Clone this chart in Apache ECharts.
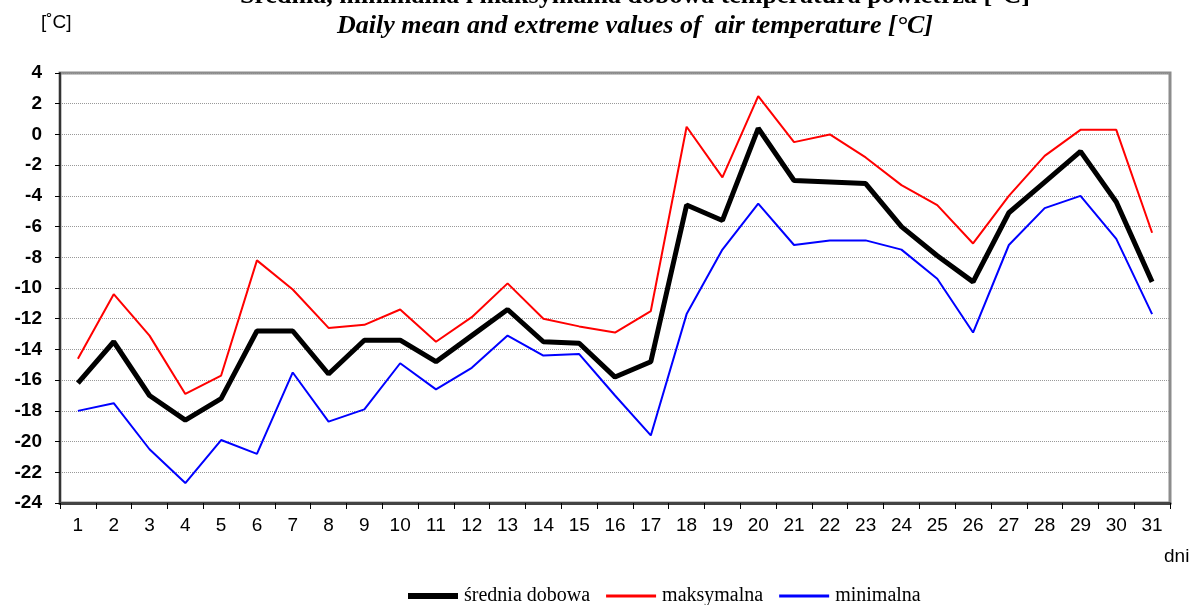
<!DOCTYPE html>
<html>
<head>
<meta charset="utf-8">
<script src="https://cdn.jsdelivr.net/npm/echarts@6/dist/echarts.min.js"></script>
<style>
html,body{margin:0;padding:0;background:#fff;}
#chart{width:1192px;height:605px;}
</style>
</head>
<body>
<div id="chart"></div>
<script>
// dni miesiaca
var days = [];
for (var d = 1; d <= 31; d++) days.push(String(d));

var srednia = [-16.2,-13.5,-17.0,-18.6,-17.2,-12.8,-12.8,-15.6,-13.4,-13.4,-14.8,-13.1,-11.4,-13.5,-13.6,-15.8,
  -14.8,-4.6,-5.6,0.4,-3.0,-3.1,-3.2,-6.0,-7.9,-9.6,-5.1,-3.1,-1.1,-4.4,-9.6];
var maksymalna = [-14.6,-10.4,-13.1,-16.9,-15.7,-8.2,-10.1,-12.6,-12.4,-11.4,-13.5,-11.9,-9.7,-12.0,-12.5,-12.9,
  -11.5,0.5,-2.8,2.5,-0.5,0.0,-1.5,-3.3,-4.6,-7.1,-4.0,-1.4,0.3,0.3,-6.4];
var minimalna = [-18.0,-17.5,-20.5,-22.7,-19.9,-20.8,-15.5,-18.7,-17.9,-14.9,-16.6,-15.2,-13.1,-14.4,-14.3,-17.0,
  -19.6,-11.7,-7.5,-4.5,-7.2,-6.9,-6.9,-7.5,-9.4,-12.9,-7.2,-4.8,-4.0,-6.8,-11.7];

// ikonki legendy - linia w srodku pola 50x14
var thickIcon = 'path://M0,0L0,0M0,4L50,4L50,10L0,10ZM50,14L50,14';
var thinIcon = 'path://M0,0L0,0M0,5.5L50,5.5L50,8.5L0,8.5ZM50,14L50,14';

var myChart = echarts.init(document.getElementById('chart'));

var option = {
    animation: false,
    backgroundColor: '#fff',
    title: [{
        text: 'Średnia, minimalna i maksymalna dobowa temperatura powietrza [°C]',
        left: 630, top: -22, textAlign: 'center',
        textStyle: {fontFamily: 'Liberation Serif', fontSize: 26, fontWeight: 'bold', color: '#000'}
    }, {
        text: 'Daily mean and extreme values of  air temperature [°C]',
        left: 630, top: 8, textAlign: 'center',
        textStyle: {fontFamily: 'Liberation Serif', fontSize: 26, fontWeight: 'bold', fontStyle: 'italic', color: '#000'}
    }, {
        text: '[˚C]',
        left: 36, top: 8,
        textStyle: {fontFamily: 'Liberation Sans', fontSize: 19, fontWeight: 'normal', color: '#000'}
    }, {
        text: 'dni',
        left: 1159, top: 542,
        textStyle: {fontFamily: 'Liberation Sans', fontSize: 19, fontWeight: 'normal', color: '#000'}
    }],
    legend: {
        bottom: -6, left: 403,
        itemWidth: 52, itemHeight: 14, itemGap: 16,
        textStyle: {fontFamily: 'Liberation Serif', fontSize: 20, color: '#000'},
        data: [
            {name: 'średnia dobowa', icon: thickIcon},
            {name: 'maksymalna', icon: thinIcon},
            {name: 'minimalna', icon: thinIcon}
        ]
    },
    grid: {
        left: 60, right: 22, top: 73, bottom: 102,
        show: true, borderColor: '#8c8c8c', borderWidth: 3
    },
    xAxis: {
        type: 'category',
        data: days,
        boundaryGap: true,
        axisLine: {onZero: false, lineStyle: {color: '#444', width: 3}},
        axisTick: {show: true, length: 6, lineStyle: {color: '#000'}},
        axisLabel: {fontFamily: 'Liberation Sans', fontSize: 19, color: '#000', margin: 13}
    },
    yAxis: {
        type: 'value',
        min: -24, max: 4, interval: 2,
        axisLine: {show: true, lineStyle: {color: '#333', width: 2}},
        axisTick: {show: true, length: 5, lineStyle: {color: '#000'}},
        axisLabel: {fontFamily: 'Liberation Sans', fontSize: 19, fontWeight: 'bold', color: '#000', margin: 18},
        splitLine: {lineStyle: {color: '#999', type: 'dotted', width: 1}}
    },
    series: [{
        name: 'średnia dobowa', type: 'line', data: srednia,
        symbol: 'none', lineStyle: {color: '#000', width: 5}, itemStyle: {color: '#000'}, z: 5
    }, {
        name: 'maksymalna', type: 'line', data: maksymalna,
        symbol: 'none', lineStyle: {color: '#ff0000', width: 2}, itemStyle: {color: '#ff0000'}, z: 4
    }, {
        name: 'minimalna', type: 'line', data: minimalna,
        symbol: 'none', lineStyle: {color: '#0000ff', width: 2}, itemStyle: {color: '#0000ff'}, z: 3
    }]
};

myChart.setOption(option);
</script>
</body>
</html>
